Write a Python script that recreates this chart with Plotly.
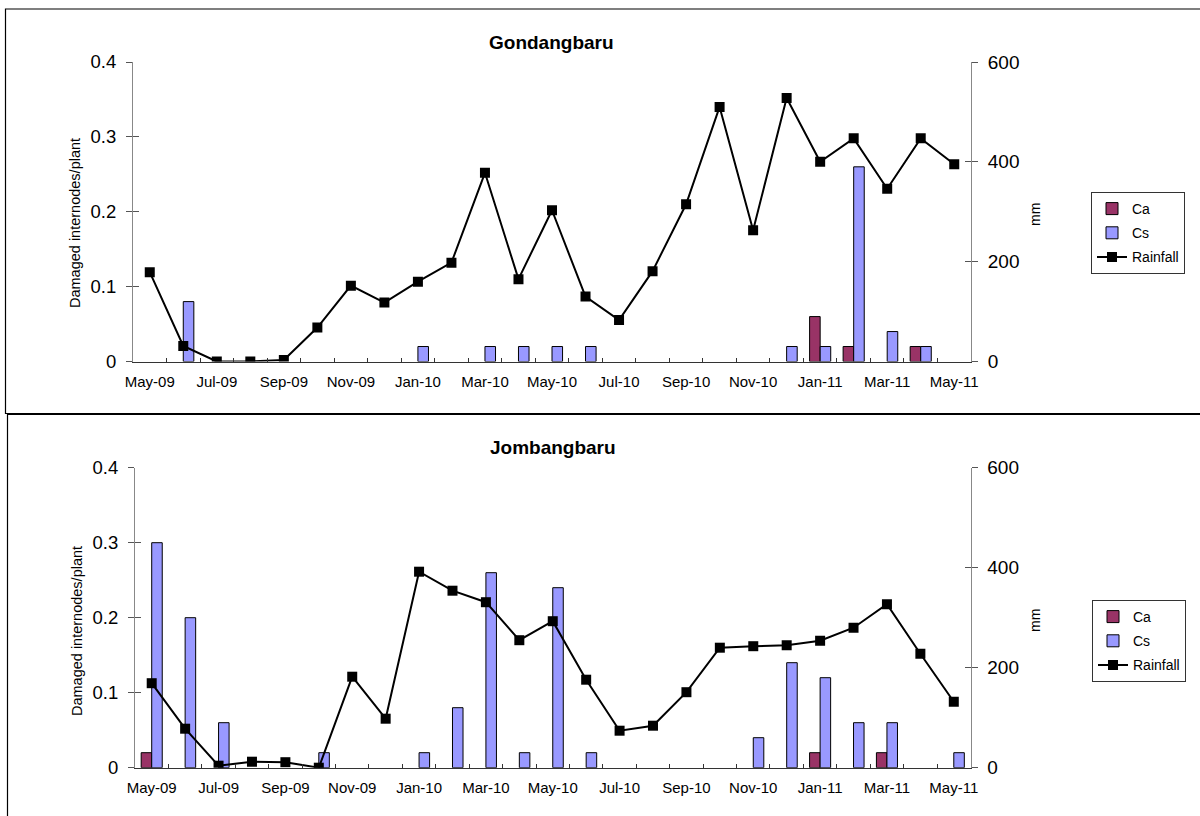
import plotly.graph_objects as go

# ---------------- data ----------------
months = ["May-09", "Jun-09", "Jul-09", "Aug-09", "Sep-09", "Oct-09", "Nov-09", "Dec-09",
          "Jan-10", "Feb-10", "Mar-10", "Apr-10", "May-10", "Jun-10", "Jul-10", "Aug-10",
          "Sep-10", "Oct-10", "Nov-10", "Dec-10", "Jan-11", "Feb-11", "Mar-11", "Apr-11", "May-11"]
label_months = ["May-09", "Jul-09", "Sep-09", "Nov-09", "Jan-10", "Mar-10", "May-10",
                "Jul-10", "Sep-10", "Nov-10", "Jan-11", "Mar-11", "May-11"]

gond_ca = [0, 0, 0, 0, 0, 0, 0, 0, 0, 0, 0, 0, 0, 0, 0, 0, 0, 0, 0, 0, 0.06, 0.02, 0, 0.02, 0]
gond_cs = [0, 0.08, 0, 0, 0, 0, 0, 0, 0.02, 0, 0.02, 0.02, 0.02, 0.02, 0, 0, 0, 0, 0, 0.02,
           0.02, 0.26, 0.04, 0.02, 0]
gond_rain = [179, 31, 0, 0, 3, 68, 152, 118, 160, 198, 378, 165, 303, 130, 83, 181, 315, 510,
             263, 528, 400, 447, 346, 447, 395]

jomb_ca = [0.02, 0, 0, 0, 0, 0, 0, 0, 0, 0, 0, 0, 0, 0, 0, 0, 0, 0, 0, 0, 0.02, 0, 0.02, 0, 0]
jomb_cs = [0.30, 0.20, 0.06, 0, 0, 0.02, 0, 0, 0.02, 0.08, 0.26, 0.02, 0.24, 0.02, 0, 0, 0, 0,
           0.04, 0.14, 0.12, 0.06, 0.06, 0, 0.02]
jomb_rain = [169, 78, 4, 12, 11, 0, 182, 98, 392, 354, 331, 255, 293, 176, 74, 84, 151, 240,
             243, 245, 254, 280, 327, 228, 132]

left_ticks = [0, 0.1, 0.2, 0.3, 0.4]
left_text = ["0", "0.1", "0.2", "0.3", "0.4"]
right_ticks = [0, 200, 400, 600]

titles = ["Gondangbaru", "Jombangbaru"]

# ---------------- style ----------------
FONT = "Liberation Sans, Arial, sans-serif"
CA_COLOR = "#993366"
CS_COLOR = "#9999FF"
W, H = 1200, 816


def nz(vals):
    return [v if v else None for v in vals]


def px_x(v):
    return v / W


def px_y(v):
    return 1 - v / H


fig = go.Figure()

panels = [
    dict(ca=gond_ca, cs=gond_cs, rain=gond_rain, x="x", y="y", y2="y2", yc1="y5", yc2="y6",
         legend="legend", xdom=[px_x(133), px_x(971)], ydom=[px_y(361.5), px_y(62)]),
    dict(ca=jomb_ca, cs=jomb_cs, rain=jomb_rain, x="x2", y="y3", y2="y4", yc1="y7", yc2="y8",
         legend="legend2", xdom=[px_x(135), px_x(970.5)], ydom=[px_y(767.7), px_y(467.7)]),
]

for p in panels:
    grp = p["legend"]
    fig.add_trace(go.Bar(x=months, y=nz(p["ca"]), name="Ca", xaxis=p["x"], yaxis=p["y"],
                         marker=dict(color=CA_COLOR, line=dict(color="black", width=1)),
                         legend=grp, legendgroup=grp + "ca"))
    fig.add_trace(go.Bar(x=months, y=nz(p["cs"]), name="Cs", xaxis=p["x"], yaxis=p["y"],
                         marker=dict(color=CS_COLOR, line=dict(color="black", width=1)),
                         legend=grp, legendgroup=grp + "cs"))
    fig.add_trace(go.Scatter(x=months, y=p["rain"], name="Rainfall", xaxis=p["x"], yaxis=p["y2"],
                             mode="lines+markers",
                             line=dict(color="black", width=2),
                             marker=dict(symbol="square", size=10, color="black"),
                             legend=grp, legendgroup=grp + "rain"))
    # helper traces so the cross-tick overlay axes get drawn
    for ya in (p["yc1"], p["yc2"]):
        fig.add_trace(go.Scatter(x=[months[0]], y=[None], xaxis=p["x"], yaxis=ya,
                                 showlegend=False, hoverinfo="skip", mode="markers"))

ticktext = [m if m in label_months else "" for m in months]

layout = dict(
    width=W, height=H, autosize=False,
    margin=dict(l=0, r=0, t=0, b=0, autoexpand=False),
    paper_bgcolor="white", plot_bgcolor="white",
    barmode="group", bargap=0.37, bargroupgap=0,
    font=dict(family=FONT, color="black"),
    showlegend=True,
)

for i, p in enumerate(panels):
    xname = "xaxis" if p["x"] == "x" else "xaxis2"
    yname = "yaxis" if p["y"] == "y" else "yaxis" + p["y"][1:]
    y2name = "yaxis" + p["y2"][1:]
    yc1name = "yaxis" + p["yc1"][1:]
    yc2name = "yaxis" + p["yc2"][1:]
    layout[xname] = dict(
        domain=p["xdom"], anchor=p["y"], type="category", automargin=False,
        categoryorder="array", categoryarray=months, range=[-0.5, len(months) - 0.5],
        tickmode="array", tickvals=months, ticktext=ticktext, tickson="boundaries",
        ticks="inside", ticklen=4, tickcolor="#333333", tickwidth=1,
        showline=True, linecolor="#333333", linewidth=1, showgrid=False, zeroline=False,
        tickfont=dict(size=15, family=FONT), ticklabelstandoff=6, tickangle=0,
    )
    ycommon = dict(domain=p["ydom"], anchor=p["x"], showgrid=False, zeroline=False,
                   automargin=False)
    layout[yname] = dict(
        **ycommon, range=[0, 0.4], tickmode="array", tickvals=left_ticks, ticktext=left_text,
        ticks="outside", ticklen=6, tickcolor="#555555", showline=True, linecolor="#888888",
        linewidth=1, tickfont=dict(size=18.5, family=FONT), ticklabelstandoff=6,
    )
    layout[y2name] = dict(
        **ycommon, overlaying=p["y"], side="right", range=[0, 600], tickmode="array",
        tickvals=right_ticks, ticks="outside", ticklen=6, tickcolor="#555555", showline=True,
        linecolor="#888888", linewidth=1, tickfont=dict(size=19, family=FONT), ticklabelstandoff=6,
    )
    layout[yc1name] = dict(
        **ycommon, overlaying=p["y"], side="left", range=[0, 0.4], tickmode="array",
        tickvals=left_ticks, ticks="inside", ticklen=6, tickcolor="#555555",
        showticklabels=False, showline=False,
    )
    layout[yc2name] = dict(
        **ycommon, overlaying=p["y"], side="right", range=[0, 600], tickmode="array",
        tickvals=right_ticks, ticks="inside", ticklen=6, tickcolor="#555555",
        showticklabels=False, showline=False,
    )

legend_common = dict(
    xanchor="left", yanchor="top", bgcolor="white", bordercolor="#333333", borderwidth=1,
    font=dict(size=14, family=FONT), traceorder="grouped", tracegroupgap=3,
    itemwidth=30,
)
layout["legend"] = dict(**legend_common, x=px_x(1091), y=px_y(192))
layout["legend2"] = dict(**legend_common, x=px_x(1092), y=px_y(600))

fig.update_layout(**layout)


def ann(text, x, y, size, angle=0):
    fig.add_annotation(text=text, x=px_x(x), y=px_y(y), xref="paper", yref="paper",
                       xanchor="center", yanchor="middle", showarrow=False, textangle=angle,
                       font=dict(size=size, family=FONT, color="black"))


# titles and axis titles
ann("<b>" + titles[0] + "</b>", 551.5, 42, 19)
ann("<b>" + titles[1] + "</b>", 552.5, 447, 19)
for ylab, ymm, xl in [(223, 215, 75), (631, 621, 77)]:
    ann("Damaged internodes/plant", xl, ylab, 14.5, -90)
    ann("mm", 1035, ymm, 14, -90)

# panel frames
fig.add_shape(type="rect", xref="paper", yref="paper", x0=px_x(5.5), x1=1.01,
              y0=px_y(413.5), y1=px_y(9), line=dict(color="black", width=1.2))
fig.add_shape(type="rect", xref="paper", yref="paper", x0=px_x(7.5), x1=1.01,
              y0=-0.01, y1=px_y(414.5), line=dict(color="black", width=1.2))

fig.write_html("out.html")
